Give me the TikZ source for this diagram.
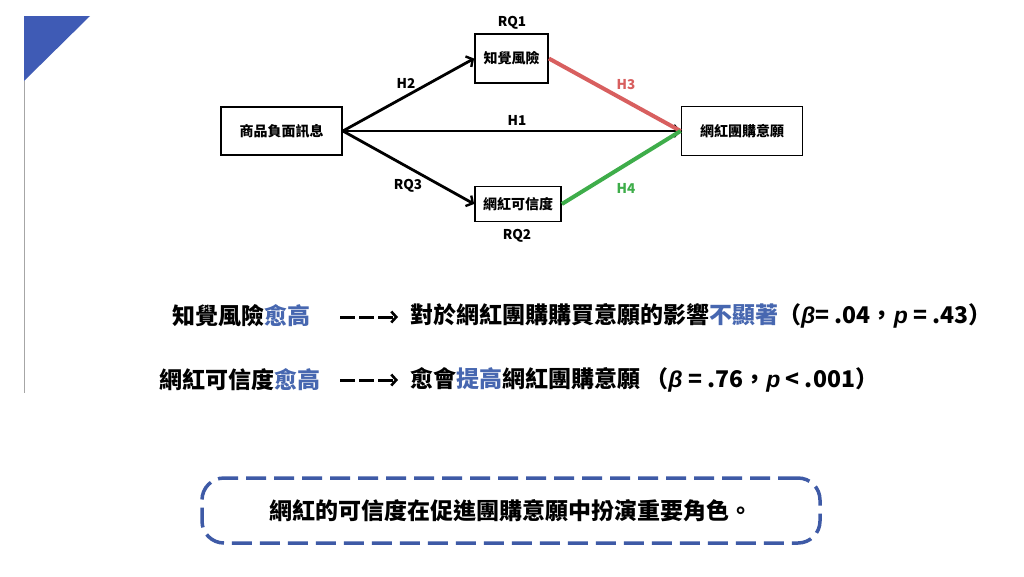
\documentclass[tikz,border=0pt]{standalone}
\usepackage{fontspec}
\setmainfont{Noto Sans CJK TC}
\newfontfamily\latfont{Liberation Sans}
\usetikzlibrary{arrows.meta}
\definecolor{tblue}{HTML}{3F5BB5}
\definecolor{hblue}{HTML}{4767B0}
\definecolor{dblue}{HTML}{3E5AA6}
\definecolor{hred}{HTML}{D85F5F}
\definecolor{hgreen}{HTML}{3EAD4A}
\newcommand{\hl}[1]{\textcolor{hblue}{#1}}
\newcommand{\ivar}[1]{{\latfont\bfseries\itshape #1}}
\begin{document}
\begin{tikzpicture}[x=1pt,y=-1pt,
  box/.style={draw, line width=1.8pt, inner sep=0pt, font=\bfseries\fontsize{14}{16}\selectfont},
  lab/.style={font=\bfseries\fontsize{13.5}{15}\selectfont, inner sep=0pt},
  arr/.style={line width=2.8pt, -{Straight Barb[length=5pt,width=12pt,line width=2.4pt]}},
  hline/.style={line width=4pt},
  big/.style={font=\bfseries\fontsize{23}{26}\selectfont, inner sep=0pt, anchor=west},
  darr/.style={line width=3pt, dash pattern=on 15pt off 4pt, -{Straight Barb[length=5pt,width=11pt,line width=2.6pt]}}
]
\useasboundingbox (0,0) rectangle (1024,576);
\fill[white] (0,0) rectangle (1024,576);
% corner decoration
\fill[tblue] (24,16) -- (90,16) -- (24,81) -- cycle;
\draw[gray!70, line width=1pt] (24.5,81) -- (24.5,393);
% diagram boxes
\node[box, minimum width=121pt, minimum height=48pt] (src) at (281.5,131) {商品負面訊息};
\node[box, minimum width=73pt, minimum height=49pt] (risk) at (511.5,58.5) {知覺風險};
\node[box, minimum width=86pt, minimum height=35pt] (cred) at (518,204) {網紅可信度};
\node[box, minimum width=121pt, minimum height=49pt] (intent) at (742,131) {網紅團購意願};
% connectors
\draw[arr] (src.east) -- (risk.west);
\draw[arr] (src.east) -- (cred.west);
\draw[arr] (src.east) -- (intent.west);
\draw[hline, hred] (risk.east) -- (intent.west);
\draw[hline, hgreen] (cred.east) -- (intent.west);
% labels
\node[lab] (rq1) at (512,23) {RQ1};
\node[lab] (h2) at (406,83) {H2};
\node[lab] (h1) at (517,120) {H1};
\node[lab] (rq3) at (408,186) {RQ3};
\node[lab] (rq2) at (517,236) {RQ2};
\node[lab, text=hred] (h3) at (626,85) {H3};
\node[lab, text=hgreen] (h4) at (626,188) {H4};
% findings
\node[big] (l1a) at (172,316) {知覺風險\hl{愈高}};
\node[big] (l1b) at (410,316) {對於網紅團購購買意願的影響\hl{不顯著}（\ivar{β}= .04，\ivar{p} = .43）};
\node[big] (l2a) at (159,380) {網紅可信度\hl{愈高}};
\node[big] (l2b) at (410,380) {愈會\hl{提高}網紅團購意願\ （\ivar{β} = .76，\ivar{p} < .001）};
\coordinate (a1s) at (340,317);
\coordinate (a1e) at (398,317);
\coordinate (a2s) at (340,380);
\coordinate (a2e) at (398,380);
\draw[darr] (a1s) -- (a1e);
\draw[darr] (a2s) -- (a2e);
% conclusion
\node[draw=dblue, line width=3.5pt, dash pattern=on 20pt off 8pt, rounded corners=22pt,
  minimum width=618pt, minimum height=65pt, inner sep=0pt,
  font=\bfseries\fontsize{23}{26}\selectfont] (concl) at (511,510.5) {網紅的可信度在促進團購意願中扮演重要角色。};
\end{tikzpicture}
\end{document}
